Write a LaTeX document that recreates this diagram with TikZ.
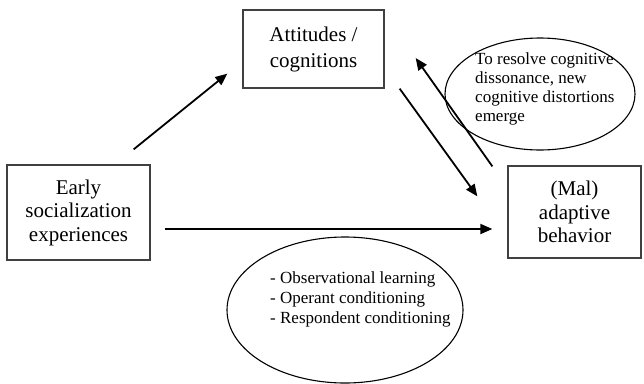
\documentclass[tikz,border=0pt]{standalone}
\usepackage{fontspec}
\setmainfont{Liberation Serif}
\usetikzlibrary{arrows.meta,calc,shapes.geometric}
\begin{document}
\begin{tikzpicture}[x=1pt,y=-1pt,
  boxnode/.style={draw=black!75,line width=1.3pt,rectangle,align=center,inner sep=0pt},
  ovalnode/.style={draw=black,line width=1.1pt,ellipse,inner sep=0pt},
  ovaltext/.style={align=left,inner sep=0pt,font=\fontsize{17}{19}\selectfont},
  arr/.style={line width=1.8pt,-{Triangle[length=12pt,width=10pt]}}]
\useasboundingbox (0,0) rectangle (644,383);
\node[boxnode,minimum width=143pt,minimum height=95pt,font=\fontsize{21}{23.5}\selectfont] (early) at (78.5,212.5) {Early\\socialization\\experiences};
\node[boxnode,minimum width=141pt,minimum height=78pt,font=\fontsize{21}{26}\selectfont] (att) at (313.5,49) {Attitudes /\\cognitions};
\node[boxnode,minimum width=133pt,minimum height=92pt,font=\fontsize{21}{23.5}\selectfont] (mal) at (574.5,212) {(Mal)\\adaptive\\behavior};
\node[ovalnode,minimum width=190pt,minimum height=112pt] (diss) at (540,94) {};
\node[ovaltext,anchor=west] (disstext) at ($(diss.center)+(-65,-5.5)$) {To resolve cognitive\\dissonance, new\\cognitive distortions\\emerge};
\node[ovalnode,minimum width=236pt,minimum height=146pt] (learn) at (345,310) {};
\node[ovaltext,anchor=west,font=\fontsize{17}{20}\selectfont] (learntext) at ($(learn.center)+(-75,-10.5)$) {- Observational learning\\- Operant conditioning\\- Respondent conditioning};
\draw[arr] ($(early.north east)+(-17,-15)$) -- ($(att.south west)+(-15,-15)$);
\draw[arr] ($(early.east)+(14,16.5)$) -- ($(mal.west)+(-15,17)$);
\draw[arr] ($(att.south east)+(15,0)$) -- ($(mal.north west)+(-30,31)$);
\draw[arr] ($(mal.north west)+(-15,1)$) -- ($(att.east)+(31,9)$);
\end{tikzpicture}
\end{document}
